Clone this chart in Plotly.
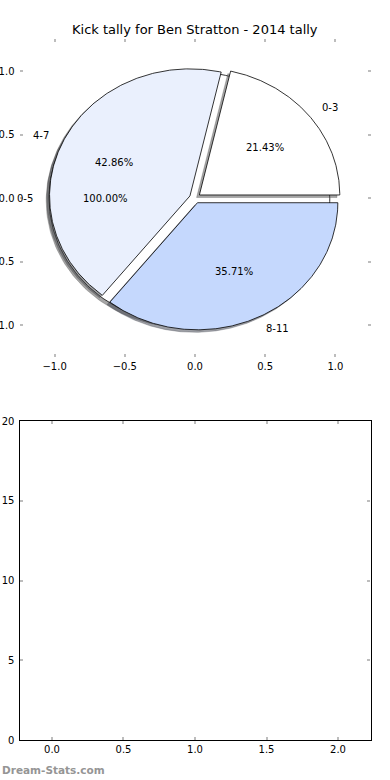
import numpy as np
import plotly.graph_objects as go

# ---------------- data ----------------
chart_title = "Kick tally for Ben Stratton - 2014 tally"
watermark = "Dream-Stats.com"

total_labels = ["0-5"]
total_values = [14]
total_colors = ["#ffffff"]

range_labels = ["0-3", "4-7", "8-11"]
range_values = [3, 6, 5]
range_colors = ["#ffffff", "#eaf0fd", "#c5d8fd"]

pie_ticks = [-1.0, -0.5, 0.0, 0.5, 1.0]
bar_xticks = [0.0, 0.5, 1.0, 1.5, 2.0]
bar_yticks = [0, 5, 10, 15, 20]

# ---------------- style ----------------
EXPLODE = 0.04
FONT = "DejaVu Sans"
TICKCOL = "#bdbdbd"


def hex_to_rgb(h):
    h = h.lstrip("#")
    return tuple(int(h[i:i + 2], 16) for i in (0, 2, 4))


def pie_parts(labels, values, colors, explode):
    traces_shadow, traces_wedge, annots = [], [], []
    total = float(sum(values))
    theta1 = 0.0
    for lab, val, col in zip(labels, values, colors):
        frac = val / total
        theta2 = theta1 + 360.0 * frac
        mid = np.deg2rad((theta1 + theta2) / 2.0)
        cx, cy = explode * np.cos(mid), explode * np.sin(mid)
        t = np.deg2rad(np.linspace(theta1, theta2, 241))
        xs = cx + np.cos(t)
        ys = cy + np.sin(t)
        if frac < 0.9999:
            xs = np.concatenate([[cx], xs, [cx]])
            ys = np.concatenate([[cy], ys, [cy]])
        r, g, b = hex_to_rgb(col)
        sh = "rgba(%d,%d,%d,0.5)" % (int(0.3 * r), int(0.3 * g), int(0.3 * b))
        traces_shadow.append(go.Scatter(
            x=xs - 0.02, y=ys - 0.02, mode="lines", fill="toself",
            fillcolor=sh, line=dict(width=0.6, color=sh),
            hoverinfo="skip", showlegend=False, xaxis="x", yaxis="y"))
        traces_wedge.append(go.Scatter(
            x=xs, y=ys, mode="lines", fill="toself", fillcolor=col,
            line=dict(width=0.8, color="#000000"),
            hoverinfo="skip", showlegend=False, xaxis="x", yaxis="y"))
        lx = cx + 1.1 * np.cos(mid)
        ly = cy + 1.1 * np.sin(mid)
        annots.append(dict(x=lx, y=ly, xref="x", yref="y", text=lab,
                           showarrow=False, xanchor="left" if lx > 0 else "right",
                           yanchor="middle", font=dict(size=10, family=FONT, color="#000")))
        px = cx + 0.6 * np.cos(mid)
        py = cy + 0.6 * np.sin(mid)
        annots.append(dict(x=px, y=py, xref="x", yref="y",
                           text="%.2f%%" % (100 * frac), showarrow=False,
                           xanchor="center", yanchor="middle",
                           font=dict(size=10, family=FONT, color="#000")))
        theta1 = theta2
    return traces_shadow, traces_wedge, annots


fig = go.Figure()
annotations = []
for labs, vals, cols in [(total_labels, total_values, total_colors),
                         (range_labels, range_values, range_colors)]:
    s, w, a = pie_parts(labs, vals, cols, EXPLODE)
    for tr in s:
        fig.add_trace(tr)
    for tr in w:
        fig.add_trace(tr)
    annotations += a

# empty bottom chart (invisible trace to create axes)
fig.add_trace(go.Scatter(x=[], y=[], xaxis="x2", yaxis="y2", showlegend=False))

annotations.append(dict(x=0.5, y=1 - 29.5 / 780, xref="paper", yref="paper",
                        text=chart_title, showarrow=False, xanchor="center",
                        yanchor="middle", font=dict(size=13, family=FONT, color="#000")))
annotations.append(dict(x=0.0, y=1 - 769.5 / 780, xref="paper", yref="paper",
                        text="<b>" + watermark + "</b>", showarrow=False,
                        xanchor="left", yanchor="middle",
                        font=dict(size=10.5, family=FONT, color="#959595")))

axis_common = dict(ticks="inside", ticklen=3, tickwidth=1.5, tickcolor=TICKCOL,
                   showgrid=False, zeroline=False, automargin=False,
                   tickfont=dict(size=10, family=FONT, color="#000"))

fig.update_layout(
    width=390, height=780,
    margin=dict(l=0, r=0, t=0, b=0),
    paper_bgcolor="white", plot_bgcolor="white",
    showlegend=False,
    annotations=annotations,
    xaxis=dict(domain=[0.05, 0.95], anchor="y", range=[-1.25, 1.25],
               tickvals=pie_ticks, tickformat=".1f", mirror="allticks",
               showline=True, linecolor="rgba(0,0,0,0)", **axis_common),
    yaxis=dict(domain=[1 - 357 / 780, 1 - 39.3 / 780], anchor="x", range=[-1.25, 1.25],
               tickvals=pie_ticks, tickformat=".1f", mirror="allticks",
               ticklabelstandoff=2,
               showline=True, linecolor="rgba(0,0,0,0)", **axis_common),
    xaxis2=dict(domain=[0.05, 0.95], anchor="y2", range=[-0.227, 2.227],
                tickvals=bar_xticks, tickformat=".1f", mirror="allticks",
                showline=True, linecolor="#000", linewidth=1.2, **axis_common),
    yaxis2=dict(domain=[1 - 740 / 780, 1 - 421.3 / 780], anchor="x2", range=[0, 20],
                tickvals=bar_yticks, tickformat="d", mirror="allticks",
                ticklabelstandoff=2,
                showline=True, linecolor="#000", linewidth=1.2, **axis_common),
)

fig.write_html("out.html", config={"displayModeBar": False},
               post_script="document.body.style.margin='0';document.body.style.padding='0';")
